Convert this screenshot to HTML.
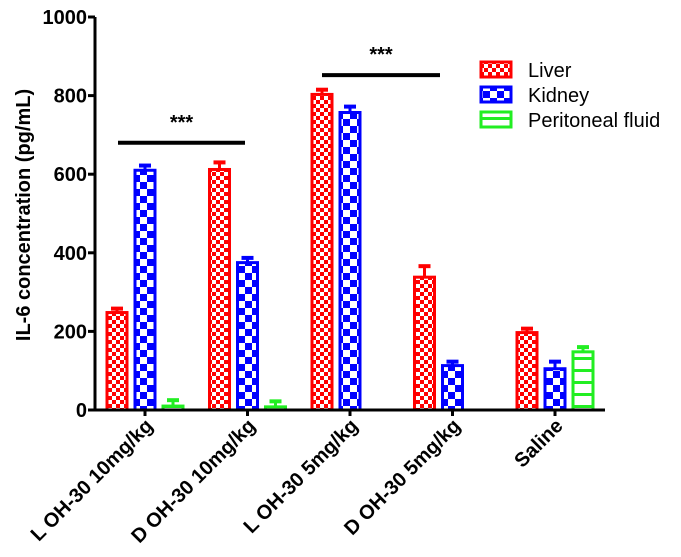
<!DOCTYPE html>
<html><head><meta charset="utf-8"><style>
html,body{margin:0;padding:0;background:#fff}
svg{display:block;font-family:"Liberation Sans",Arial,sans-serif}
</style></head><body>
<svg id="chart" width="681" height="557" viewBox="0 0 681 557" xmlns="http://www.w3.org/2000/svg">
<defs>
<pattern id="pLiver" width="8" height="8" patternUnits="userSpaceOnUse">
<rect width="8" height="8" fill="#fff"/><rect width="4" height="4" fill="#f00"/><rect x="4" y="4" width="4" height="4" fill="#f00"/>
</pattern>
<pattern id="pKidney" width="14" height="14" patternUnits="userSpaceOnUse">
<rect width="14" height="14" fill="#fff"/><rect width="7" height="7" fill="#00f"/><rect x="7" y="7" width="7" height="7" fill="#00f"/>
</pattern>
<pattern id="pPF" width="8" height="12" patternUnits="userSpaceOnUse">
<rect width="8" height="12" fill="#fff"/><rect y="9" width="8" height="3" fill="#2e2"/>
</pattern>
</defs>
<g id="axes"></g>
<g id="bars"></g>
<g id="legend"></g>
</svg>
<script>
const categories = ["L OH-30 10mg/kg","D OH-30 10mg/kg","L OH-30 5mg/kg","D OH-30 5mg/kg","Saline"];
const liverValues = [248,612,803,338,197];
const liverErrors = [10,18,12,28,10];
const kidneyValues = [610,375,757,113,105];
const kidneyErrors = [12,12,15,10,18];
const pfValues = [10,8,0,0,148];
const pfErrors = [15,14,0,0,12];
const yTicks = [0,200,400,600,800,1000];
const seriesNames = ["Liver","Kidney","Peritoneal fluid"];

const NS="http://www.w3.org/2000/svg";
const X0=95, X1=605, Y0=410, Y1=17;
const y = v => Y0 - (v/1000)*(Y0-Y1);
const xc = i => 145 + i*102.5;
function mk(tag, attrs, parent){const e=document.createElementNS(NS,tag);for(const k in attrs)e.setAttribute(k,attrs[k]);parent.appendChild(e);return e;}
const axes=document.getElementById('axes'), bars=document.getElementById('bars'), legend=document.getElementById('legend');

let el=mk('line',{x1:X0,y1:Y1,x2:X0,y2:Y0+1.5,stroke:'#000','stroke-width':3},axes);


el=mk('line',{x1:X0-1.5,y1:Y0,x2:X1,y2:Y0,stroke:'#000','stroke-width':3},axes);


yTicks.forEach(t=>{
  mk('line',{x1:X0-7,y1:y(t),x2:X0,y2:y(t),stroke:'#000','stroke-width':3},axes);
  const tx=mk('text',{x:X0-8,y:y(t)+7,'text-anchor':'end','font-size':20,'font-weight':'bold'},axes);
  tx.textContent=t;
  
  
});
el=mk('text',{x:0,y:0,transform:'translate(30,215) rotate(-90)','text-anchor':'middle','font-size':20,'font-weight':'bold'},axes);
el.textContent='IL-6 concentration (pg/mL)';


categories.forEach((c,i)=>{
  mk('line',{x1:xc(i),y1:Y0,x2:xc(i),y2:Y0+6,stroke:'#000','stroke-width':3},axes);
  const tx=mk('text',{x:0,y:0,transform:`translate(${xc(i)+9},${Y0+17}) rotate(-45)`,'text-anchor':'end','font-size':20,'font-weight':'bold'},axes);
  tx.textContent=c;
  
  
});

const series=[
  {vals:liverValues,errs:liverErrors,fill:'url(#pLiver)',col:'#f00',off:-28,name:'bar-liver'},
  {vals:kidneyValues,errs:kidneyErrors,fill:'url(#pKidney)',col:'#00f',off:0,name:'bar-kidney'},
  {vals:pfValues,errs:pfErrors,fill:'url(#pPF)',col:'#2e2',off:28,name:'bar-peritoneal-fluid'}
];
const BW=20;
series.forEach(s=>{
  s.vals.forEach((v,i)=>{
    if(v<=0 && s.errs[i]<=0) return;
    const cx=xc(i)+s.off, top=y(v);
    const h=Math.max(Y0-top,2);
    const r=mk('rect',{x:cx-BW/2,y:Y0-h,width:BW,height:h,fill:s.fill,stroke:s.col,'stroke-width':3},bars);
    
    
    const et=y(v+s.errs[i]);
    mk('line',{x1:cx,y1:Y0-h,x2:cx,y2:et,stroke:s.col,'stroke-width':3},bars);
    const cap=mk('line',{x1:cx-6,y1:et,x2:cx+6,y2:et,stroke:s.col,'stroke-width':4},bars);
    
    
  });
});
mk('line',{x1:X0,y1:Y0,x2:X1,y2:Y0,stroke:'#000','stroke-width':3},bars);

// significance
[[118,245,680],[322,440,852]].forEach(b=>{
  const l=mk('line',{x1:b[0],y1:y(b[2]),x2:b[1],y2:y(b[2]),stroke:'#000','stroke-width':4},bars);
  
  
  const t=mk('text',{x:(b[0]+b[1])/2,y:y(b[2])-14,'text-anchor':'middle','font-size':20,'font-weight':'bold'},bars);
  t.textContent='***';
  
  
});

seriesNames.forEach((n,i)=>{
  const ly=62+i*25;
  const r=mk('rect',{x:481,y:ly,width:30,height:15,fill:series[i].fill,stroke:series[i].col,'stroke-width':3},legend);
  
  
  const t=mk('text',{x:528,y:ly+15,'font-size':20},legend);
  t.textContent=n;
  
  
});
</script>
</body></html>
